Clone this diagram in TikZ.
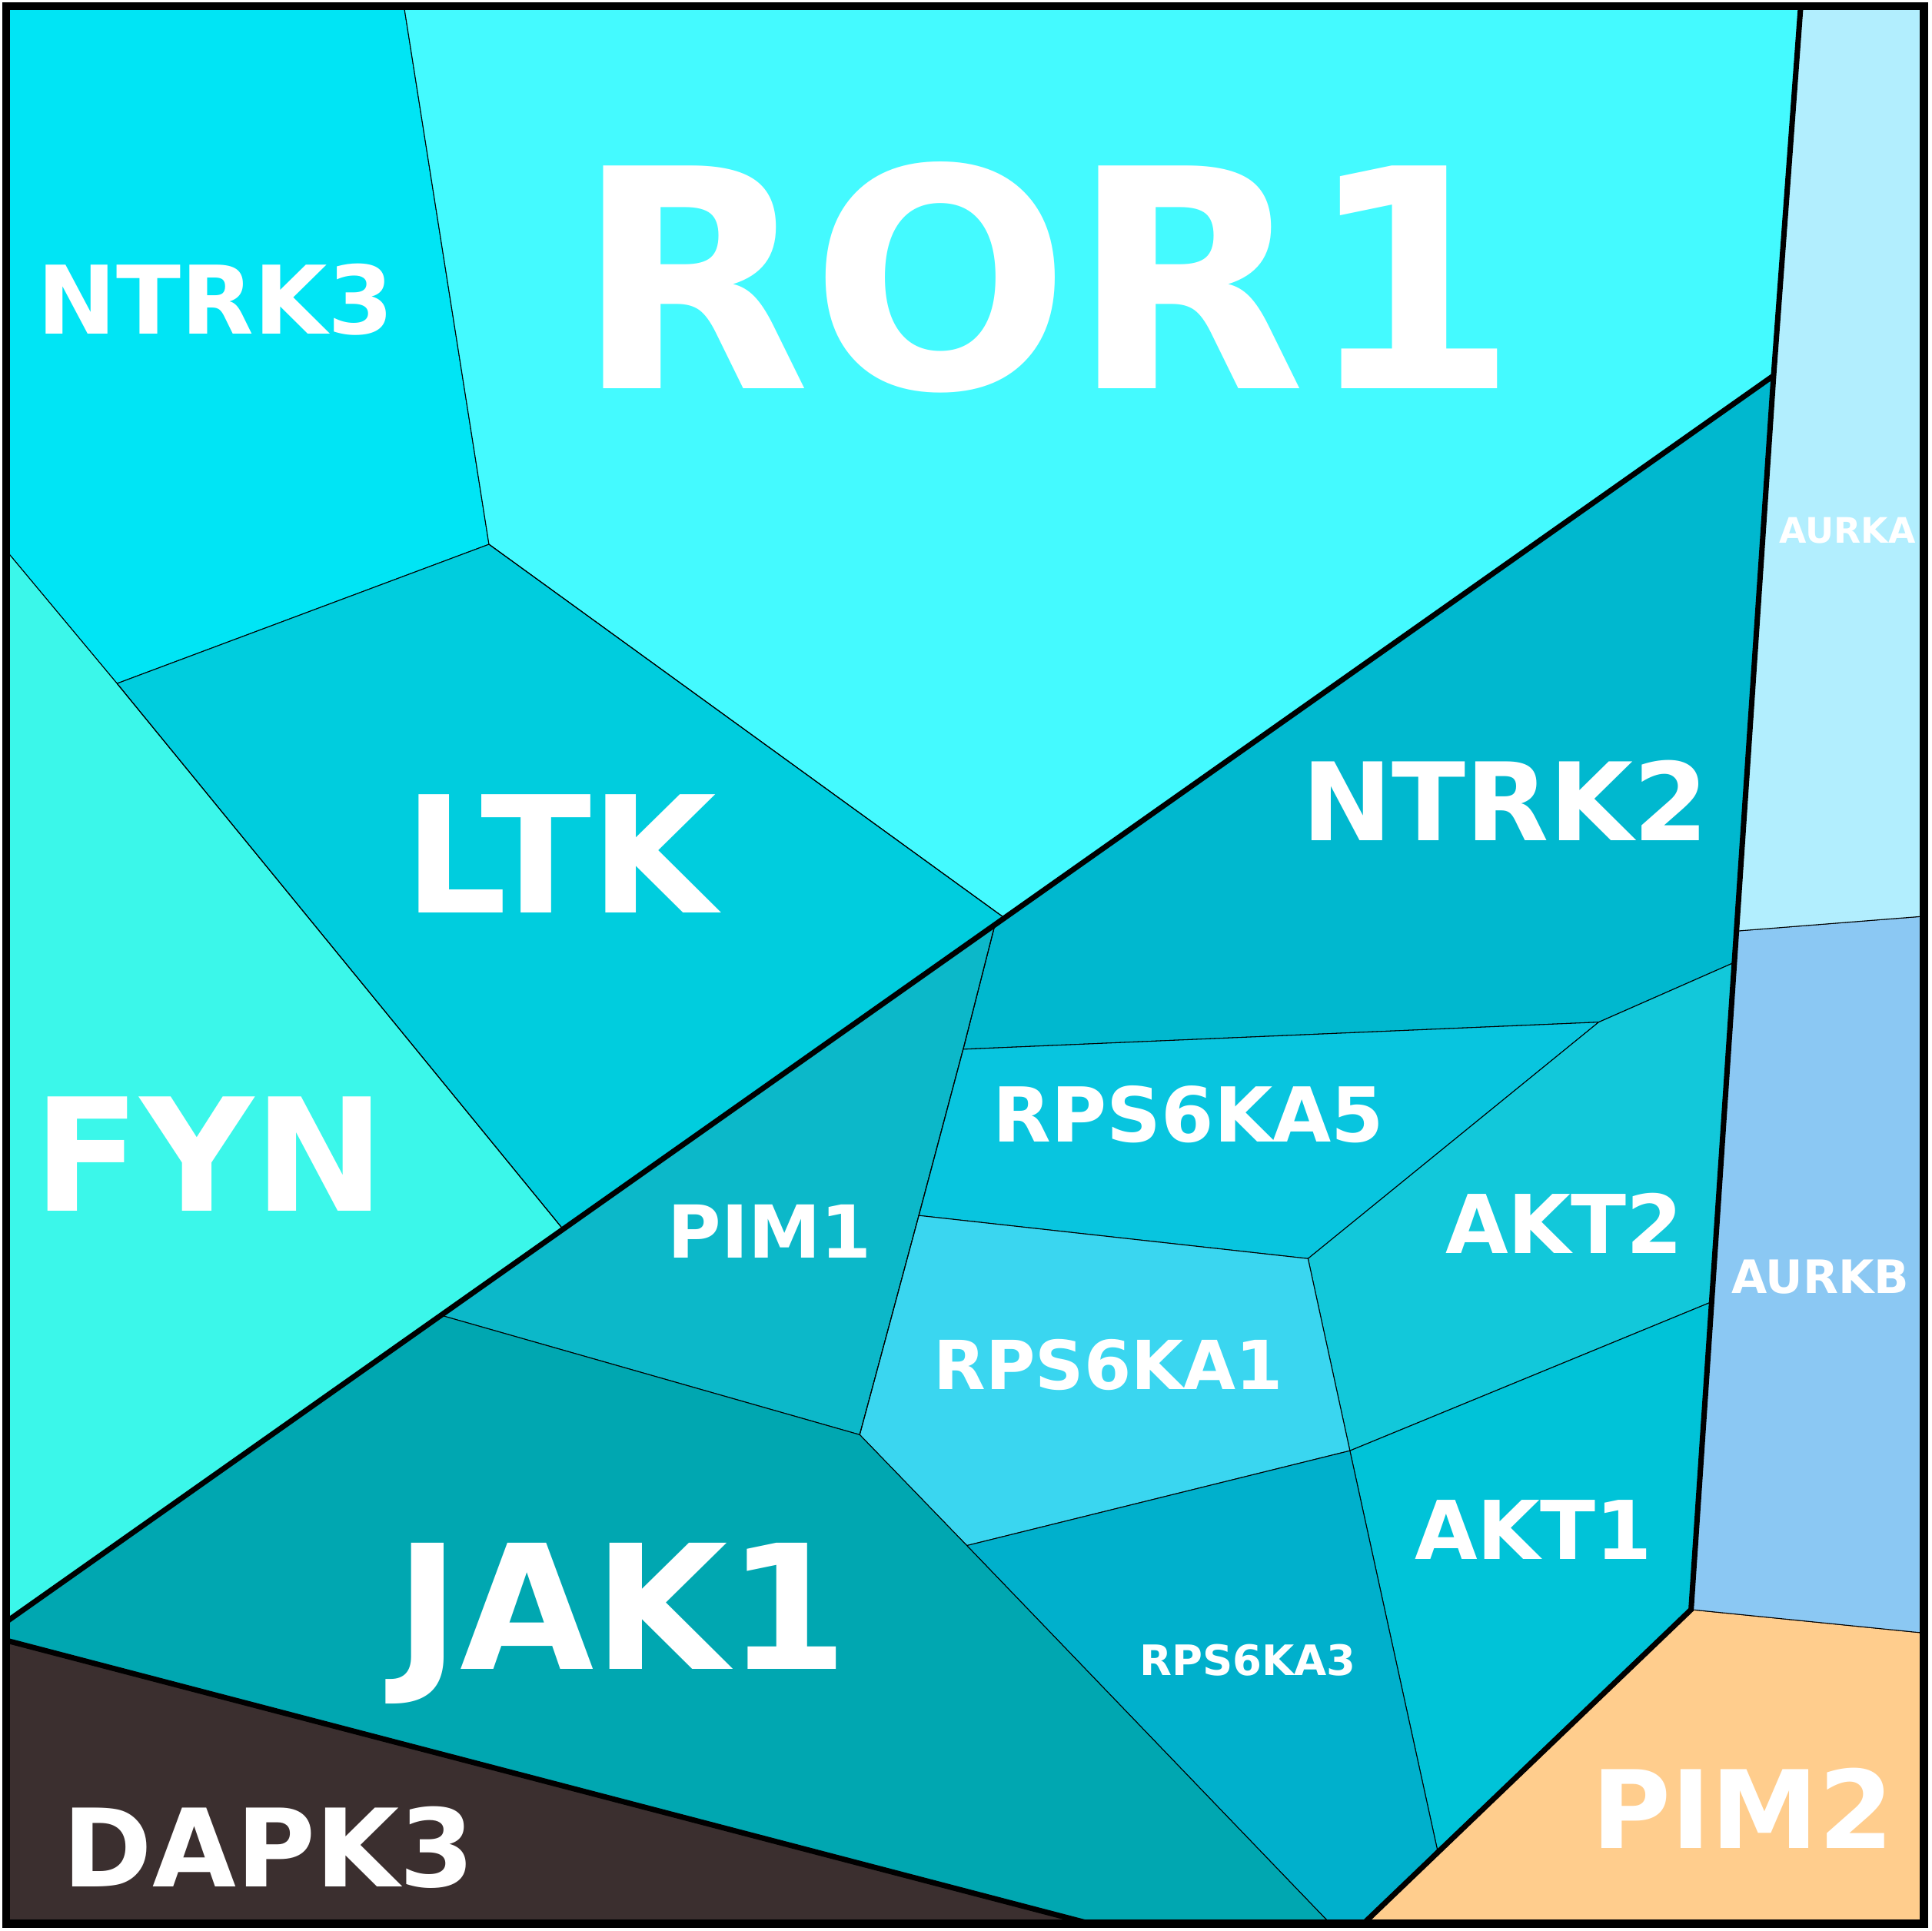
\documentclass[tikz,border=0pt]{standalone}
\usepackage{fontspec}
\setmainfont{DejaVu Sans}
\begin{document}
\begin{tikzpicture}
    [
    x=0.016cm,y=-0.016cm,
    cell/.style={draw=black,line width=0.3pt},
    heavy/.style={draw=black,line width=2pt},
    lbl/.style={text=white,font=\bfseries,inner sep=0pt},
    ]
    \useasboundingbox (0,0) rectangle (1568,1568);
    % corner points of the cells
    \coordinate (tl) at (5,5);   \coordinate (tr) at (1562,5);
    \coordinate (br) at (1562,1562); \coordinate (bl) at (5,1562);
    \coordinate (a) at (328,5);  \coordinate (b) at (397,442);
    \coordinate (c) at (5,447);  \coordinate (d) at (95,555);
    \coordinate (e) at (815,745); \coordinate (f) at (1440,305);
    \coordinate (g) at (1462,5); \coordinate (h) at (457,998);
    \coordinate (i) at (358,1068); \coordinate (j) at (5,1317);
    \coordinate (k) at (5,1332); \coordinate (l) at (885,1562);
    \coordinate (m) at (698,1165); \coordinate (n) at (746,987);
    \coordinate (o) at (782,852); \coordinate (p) at (808,750);
    \coordinate (q) at (1298,830); \coordinate (r) at (1407,782);
    \coordinate (s) at (1062,1022); \coordinate (t) at (1096,1178);
    \coordinate (u) at (785,1255); \coordinate (v) at (1390,1057);
    \coordinate (w) at (1167,1502); \coordinate (xx) at (1373,1307);
    \coordinate (y) at (1080,1562); \coordinate (z) at (1107,1562);
    \coordinate (ab) at (1410,756); \coordinate (ab2) at (1562,744);
    \coordinate (bp) at (1562,1326);
    % cells
    \fill[cell,fill={rgb,255:red,0;green,229;blue,245}] (tl)--(a)--(b)--(d)--(c)--cycle;
    \fill[cell,fill={rgb,255:red,68;green,250;blue,255}] (a)--(g)--(f)--(e)--(b)--cycle;
    \fill[cell,fill={rgb,255:red,0;green,205;blue,222}] (b)--(e)--(h)--(d)--cycle;
    \fill[cell,fill={rgb,255:red,59;green,247;blue,234}] (c)--(d)--(h)--(i)--(j)--cycle;
    \fill[cell,fill={rgb,255:red,0;green,184;blue,207}] (e)--(f)--(r)--(q)--(o)--(p)--cycle;
    \fill[cell,fill={rgb,255:red,12;green,184;blue,201}] (p)--(o)--(n)--(m)--(i)--cycle;
    \fill[cell,fill={rgb,255:red,8;green,197;blue,223}] (o)--(q)--(s)--(n)--cycle;
    \fill[cell,fill={rgb,255:red,18;green,200;blue,218}] (q)--(r)--(v)--(t)--(s)--cycle;
    \fill[cell,fill={rgb,255:red,58;green,214;blue,240}] (n)--(s)--(t)--(u)--(m)--cycle;
    \fill[cell,fill={rgb,255:red,0;green,195;blue,216}] (t)--(v)--(xx)--(w)--cycle;
    \fill[cell,fill={rgb,255:red,0;green,176;blue,204}] (u)--(t)--(w)--(z)--(y)--cycle;
    \fill[cell,fill={rgb,255:red,0;green,167;blue,177}] (i)--(m)--(u)--(y)--(l)--(k)--(j)--cycle;
    \fill[cell,fill={rgb,255:red,59;green,47;blue,47}] (k)--(l)--(bl)--cycle;
    \fill[cell,fill={rgb,255:red,255;green,205;blue,141}] (xx)--(bp)--(br)--(z)--cycle;
    \fill[cell,fill={rgb,255:red,139;green,200;blue,243}] (ab)--(ab2)--(bp)--(xx)--(v)--(r)--cycle;
    \fill[cell,fill={rgb,255:red,178;green,238;blue,254}] (g)--(tr)--(ab2)--(ab)--(f)--cycle;
    \draw[cell] (b)--(e) (d)--(h) (p)--(o)--(n)--(m);
    % thick borders
    \draw[heavy] (f)--(j) (g)--(f)--(xx)--(z) (k)--(l);
    \draw[draw=black,line width=3pt] (tl) rectangle (br);
    % labels
    \node[lbl,font=\bfseries\fontsize{113}{113}\selectfont] (ror1) at (850,225) {ROR1};
    \node[lbl,font=\bfseries\fontsize{35}{35}\selectfont] (ntrk3) at (175,243) {NTRK3};
    \node[lbl,font=\bfseries\fontsize{60}{60}\selectfont] (ltk) at (455,693) {LTK};
    \node[lbl,font=\bfseries\fontsize{58}{58}\selectfont] (fyn) at (170,937) {FYN};
    \node[lbl,font=\bfseries\fontsize{40}{40}\selectfont] (ntrk2) at (1222,650) {NTRK2};
    \node[lbl,font=\bfseries\fontsize{27}{27}\selectfont] (pim1) at (625,1000) {PIM1};
    \node[lbl,font=\bfseries\fontsize{28}{28}\selectfont] (rps5) at (965,905) {RPS6KA5};
    \node[lbl,font=\bfseries\fontsize{30}{30}\selectfont] (akt2) at (1270,993) {AKT2};
    \node[lbl,font=\bfseries\fontsize{25}{25}\selectfont] (rps1) at (900,1108) {RPS6KA1};
    \node[lbl,font=\bfseries\fontsize{30}{30}\selectfont] (akt1) at (1245,1242) {AKT1};
    \node[lbl,font=\bfseries\fontsize{15.5}{15.5}\selectfont] (rps3) at (1013,1348) {RPS6KA3};
    \node[lbl,font=\bfseries\fontsize{64}{64}\selectfont] (jak1) at (505,1318) {JAK1};
    \node[lbl,font=\bfseries\fontsize{40}{40}\selectfont] (dapk3) at (218,1500) {DAPK3};
    \node[lbl,font=\bfseries\fontsize{40}{40}\selectfont] (pim2) at (1415,1468) {PIM2};
    \node[lbl,font=\bfseries\fontsize{13}{13}\selectfont] (aurka) at (1500,431) {AURKA};
    \node[lbl,font=\bfseries\fontsize{17}{17}\selectfont] (aurkb) at (1478,1037) {AURKB};
\end{tikzpicture}
\end{document}
